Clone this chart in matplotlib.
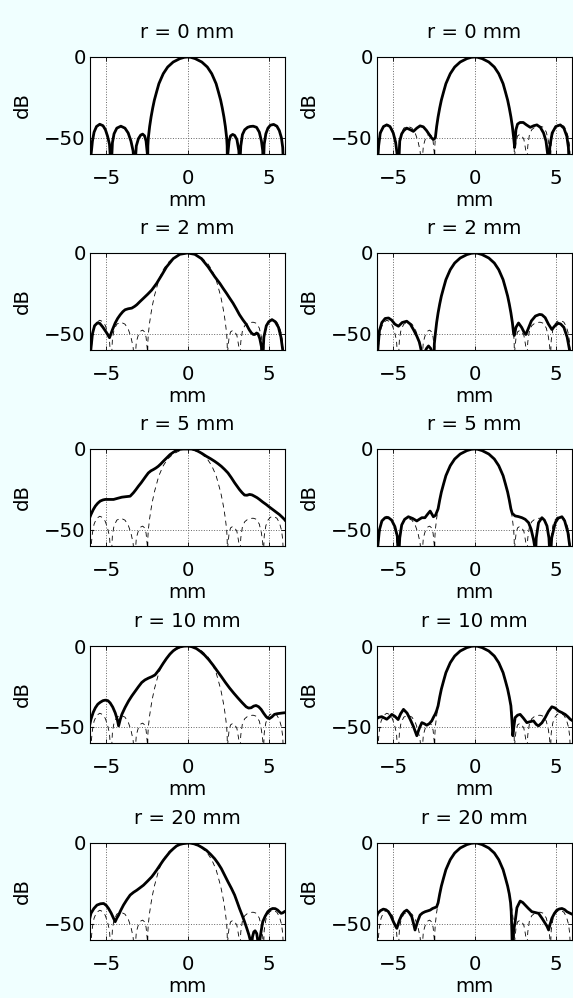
import matplotlib.pyplot as plt

plt.rcParams['font.family'] = 'DejaVu Sans'
plt.rcParams['font.size'] = 14.2

# radii shown in the panel titles
radii = [0, 2, 5, 10, 20]

# ideal profile (dashed in every panel, solid in the top-left one)
ref_x = [-6.0, -5.95, -5.85, -5.75, -5.6, -5.4, -5.2, -5.05, -4.92, -4.8, -4.7,
         -4.62, -4.52, -4.35, -4.1, -3.85, -3.65, -3.48, -3.35, -3.25,
         -3.15, -3.02, -2.88, -2.76, -2.64, -2.55, -2.47, -2.45,
         -2.44, -2.41, -2.33, -2.24, -2.14, -2.04, -1.9, -1.76, -1.6, -1.49, -1.22, -0.88, -0.47, -0.2, 0.0,
         0.2, 0.47, 0.88, 1.22, 1.49, 1.6, 1.76, 1.9, 2.04, 2.14, 2.24, 2.33, 2.41, 2.44,
         2.46, 2.48, 2.56, 2.65, 2.78, 2.9, 3.04, 3.16, 3.2,
         3.28, 3.38, 3.52, 3.7, 3.85, 4.04, 4.25, 4.42, 4.55, 4.63, 4.66,
         4.72, 4.82, 4.95, 5.1, 5.3, 5.5, 5.65, 5.78, 5.86, 5.92, 6.0]
ref_y = [-70, -62, -52, -46.5, -43, -41.6, -42.5, -45, -49, -54, -70,
         -53, -47.5, -44, -42.8, -44, -47, -52, -58, -70,
         -55, -50.5, -48.3, -47.7, -48.8, -52, -60, -70,
         -55, -50, -43, -37, -31.5, -26.7, -21.5, -16.5, -12.8, -10.3, -6.2, -3.1, -1.0, -0.2, 0.0,
         -0.2, -1.0, -3.1, -6.2, -10.3, -12.8, -16.5, -21.5, -26.7, -31.5, -37, -43, -50, -55,
         -70, -60, -52, -48.8, -47.9, -48.5, -51, -58, -70,
         -55, -48, -45, -43.5, -43, -42.8, -43.5, -46.5, -52, -58, -70,
         -54, -47.5, -44, -42.2, -41.7, -42.8, -45.5, -50, -56, -70, -70]

# left column, measured profiles
left_r2_x = [-6.0, -5.95, -5.85, -5.72, -5.55, -5.4, -5.2, -5.0, -4.8, -4.62, -4.45, -4.3, -4.14,
             -3.98, -3.84, -3.65, -3.43, -3.25, -3.12, -2.92, -2.71, -2.45, -2.2, -1.9, -1.59,
             -1.29, -0.88, -0.47, 0.0, 0.45, 0.86, 1.27, 1.68, 1.99, 2.2, 2.4, 2.6, 2.8, 3.0,
             3.2, 3.42, 3.63, 3.8, 3.93, 4.05, 4.14, 4.25, 4.34, 4.45, 4.55, 4.6, 4.7, 4.85,
             5.0, 5.2, 5.4, 5.6, 5.75, 5.86, 5.92, 6.0]
left_r2_y = [-70, -60, -50, -45, -43.3, -43.5, -46, -49, -52.4, -47.5, -43.3, -40.5, -38.2,
             -36.3, -35.1, -34.5, -34.1, -33, -32, -30, -28, -25.5, -22.9, -18.8, -13.7,
             -8.6, -3.5, -0.8, 0.0, -0.8, -3.5, -8.6, -14.7, -18.8, -22, -24.9, -28, -31, -34.5,
             -38.2, -41.5, -44.3, -47.5, -49.4, -50.4, -50.4, -49.5, -50, -53, -58, -70, -52, -45,
             -42.5, -41.2, -42.5, -46, -52, -60, -70, -70]

left_r5_x = [-6.0, -5.94, -5.8, -5.67, -5.52, -5.37, -5.2, -5.06, -4.8, -4.55, -4.3, -4.04, -3.8,
             -3.53, -3.33, -3.18, -3.02, -2.86, -2.71, -2.56, -2.41, -2.25, -2.1, -1.95, -1.8,
             -1.64, -1.49, -1.28, -1.08, -0.87, -0.67, -0.45, -0.27, 0.0, 0.24, 0.45, 0.65,
             0.9, 1.16, 1.42, 1.67, 1.88, 2.08, 2.28, 2.49, 2.7, 2.9, 3.05, 3.2, 3.36, 3.51,
             3.66, 3.82, 3.97, 4.12, 4.28, 4.43, 4.63, 4.84, 5.04, 5.24, 5.45, 5.65, 5.81, 5.96, 6.0]
left_r5_y = [-42, -40.5, -37.5, -35.3, -33.5, -32.2, -31.5, -31.2, -31.2, -31.2, -30.5, -29.8, -29.5,
             -29.2, -27.1, -25.2, -23, -21, -18.9, -16.8, -14.8, -13.5, -12.7, -11.8, -10.7,
             -9.2, -7.6, -5.5, -3.5, -2.0, -0.8, -0.2, 0.0, 0.0, 0.0, -0.5, -1.4,
             -2.8, -4.5, -6.0, -7.6, -9.1, -10.7, -12.6, -14.8, -17.8, -20.9, -23.0, -25.1, -27.0, -28.5,
             -28.6, -28.1, -28.4, -29.2, -30.1, -31.2, -32.8, -34.3, -35.9, -37.4, -39.0, -40.5, -42.0, -43.5, -44.0]

left_r10_x = [-6.0, -5.94, -5.8, -5.67, -5.52, -5.37, -5.2, -5.06, -4.9, -4.76, -4.6, -4.45, -4.32,
              -4.24, -4.14, -4.04, -3.84, -3.63, -3.42, -3.22, -3.02, -2.82, -2.62, -2.41, -2.2,
              -2.0, -1.85, -1.69, -1.5, -1.29, -1.08, -0.88, -0.67, -0.47, -0.22, 0.0, 0.25, 0.55,
              0.8, 1.06, 1.32, 1.57, 1.82, 2.08, 2.33, 2.59, 2.85, 3.1, 3.36, 3.61, 3.76, 3.92,
              4.07, 4.22, 4.38, 4.53, 4.68, 4.84, 4.94, 5.04, 5.2, 5.35, 5.5, 5.65, 5.8, 5.96, 6.0]
left_r10_y = [-48, -45.3, -41, -38.2, -36, -34.8, -33.8, -33.5, -33.8, -35.2, -37.8, -41.3, -45.5,
              -49.4, -45.5, -42.3, -38, -34.1, -30.8, -28, -25.2, -22.6, -21.0, -19.9, -19.0,
              -17.9, -16.0, -13.8, -10.8, -7.7, -5.0, -3.0, -1.5, -0.6, -0.1, 0.0, -0.4, -1.6,
              -3.4, -5.7, -8.6, -11.8, -15.3, -18.9, -22.5, -26.0, -29.2, -32.1, -35.0, -37.6, -38.4, -38.2,
              -37.2, -36.8, -37.6, -39.2, -41.5, -43.7, -44.6, -44.9, -43.8, -42.3, -41.9, -41.7, -41.5, -41.3, -41.3]

left_r20_x = [-6.0, -5.94, -5.76, -5.57, -5.36, -5.16, -5.0, -4.86, -4.7, -4.55, -4.45, -4.35, -4.24,
              -4.1, -3.94, -3.74, -3.53, -3.32, -3.12, -2.92, -2.71, -2.45, -2.2, -2.05, -1.9,
              -1.7, -1.49, -1.28, -1.08, -0.87, -0.67, -0.47, -0.27, 0.0, 0.14, 0.4, 0.65, 0.9,
              1.16, 1.42, 1.67, 1.88, 2.08, 2.28, 2.49, 2.7, 2.9, 3.05, 3.2, 3.36, 3.51, 3.65,
              3.78, 3.86, 3.92, 4.0, 4.08, 4.16, 4.26, 4.39, 4.45, 4.54, 4.63, 4.78, 4.94, 5.09,
              5.24, 5.4, 5.55, 5.66, 5.76, 5.86, 5.96, 6.0]
left_r20_y = [-46, -43.5, -40.5, -38.4, -37.6, -37.4, -38.6, -40.5, -43.3, -46.6, -48.7, -46.5, -44.6,
              -41.5, -38.4, -35.2, -32.2, -30.5, -29.2, -27.7, -26.1, -23.5, -20.9, -18.9, -16.8,
              -13.8, -10.7, -8.0, -5.5, -3.5, -1.8, -0.9, -0.4, -0.1, 0.0, -0.5, -1.4, -2.8,
              -4.5, -7.0, -9.7, -12.6, -15.8, -19.8, -24.0, -28.0, -32.2, -36.3, -40.5, -44.6, -48.7, -52.8,
              -56.9, -60, -65, -58, -55, -54.3, -56, -65, -60, -54, -48.7, -45.3, -42.5, -41.2,
              -40.5, -40.6, -41.5, -42.6, -43.5, -43.2, -42.5, -42.3]

# right column, measured profiles
right_r0_x = [-6.0, -5.9, -5.8, -5.6, -5.4, -5.2, -5.0, -4.85, -4.74, -4.68,
              -4.6, -4.48, -4.35, -4.17, -3.95, -3.76, -3.55, -3.35, -3.15, -2.95, -2.75, -2.63, -2.52,
              -2.41, -2.33, -2.24, -2.14, -2.04, -1.9, -1.76, -1.6, -1.49, -1.22, -0.88, -0.47, -0.2, 0.0,
              0.2, 0.47, 0.88, 1.22, 1.49, 1.6, 1.76, 1.9, 2.04, 2.14, 2.24, 2.33, 2.41, 2.44,
              2.47, 2.55, 2.65, 2.8, 3.0, 3.2, 3.43, 3.65, 3.84, 4.05, 4.25, 4.4, 4.5, 4.56,
              4.64, 4.78, 5.0, 5.28, 5.5, 5.68, 5.78, 5.84, 6.0]
right_r0_y = [-70, -55, -47, -43, -42, -43, -47, -53, -62, -70,
              -52, -47.5, -45.5, -44, -45, -46, -44, -42.6, -43.2, -45.5, -48.5, -50.2, -51,
              -50, -43, -37, -31.5, -26.7, -21.5, -16.5, -12.8, -10.3, -6.2, -3.1, -1.0, -0.2, 0.0,
              -0.2, -1.0, -3.1, -6.2, -10.3, -12.8, -16.5, -21.5, -26.7, -31.5, -37, -43, -50, -53,
              -56, -45, -41.5, -40.5, -40.5, -42, -43.5, -42.5, -42, -43.5, -47, -52, -60, -70,
              -55, -47, -43, -42, -44, -49, -56, -70, -70]

right_r2_x = [-6.0, -5.95, -5.85, -5.7, -5.5, -5.29, -5.1, -4.9, -4.68, -4.45, -4.17, -3.95, -3.75,
              -3.55, -3.4, -3.28, -3.2, -3.05, -2.95, -2.83, -2.7, -2.6, -2.52,
              -2.47, -2.41, -2.33, -2.24, -2.14, -2.04, -1.9, -1.76, -1.6, -1.49, -1.22, -0.88, -0.47, -0.2, 0.0,
              0.2, 0.47, 0.88, 1.22, 1.49, 1.6, 1.76, 1.9, 2.04, 2.14, 2.24, 2.33, 2.41,
              2.45, 2.55, 2.71, 2.9, 3.05, 3.16, 3.3, 3.5, 3.75, 4.0, 4.15, 4.35, 4.55, 4.76,
              4.95, 5.15, 5.3, 5.5, 5.7, 5.85, 5.95, 6.0]
right_r2_y = [-70, -60, -48, -43, -40.5, -40.2, -41.5, -44, -45.3, -43, -42.2, -44, -47.5,
              -51.4, -55, -60, -70, -61, -59, -57.5, -59, -62, -70,
              -56, -50, -43, -37, -31.5, -26.7, -21.5, -16.5, -12.8, -10.3, -6.2, -3.1, -1.0, -0.2, 0.0,
              -0.2, -1.0, -3.1, -6.2, -10.3, -12.8, -16.5, -21.5, -26.7, -31.5, -37, -43, -50,
              -51, -46, -43.3, -46, -49, -50.4, -47, -42, -39, -38, -38.2, -40, -44, -47.3,
              -45, -43.5, -43.9, -46, -52, -60, -70, -70]

right_r5_x = [-6.0, -5.95, -5.85, -5.7, -5.5, -5.29, -5.1, -4.9, -4.75, -4.68,
              -4.6, -4.48, -4.3, -4.07, -3.8, -3.55, -3.4, -3.24, -3.05, -2.9, -2.73, -2.53,
              -2.4, -2.3, -2.24, -2.14, -2.04, -1.9, -1.76, -1.6, -1.49, -1.22, -0.88, -0.47, -0.2, 0.0,
              0.2, 0.47, 0.88, 1.22, 1.49, 1.6, 1.76, 1.9, 2.04, 2.14, 2.24, 2.32, 2.5,
              2.7, 2.92, 3.12, 3.33, 3.48, 3.63, 3.7, 3.74, 3.8, 3.94, 4.15, 4.3, 4.46, 4.58, 4.66,
              4.75, 4.97, 5.15, 5.38, 5.55, 5.75, 5.86, 5.92, 6.0]
right_r5_y = [-70, -60, -50, -44.5, -42.5, -42.5, -44, -48, -54, -70,
              -55, -47, -43.5, -41.9, -43, -44.5, -43.5, -42.5, -42.5, -40.5, -38.4, -41.9,
              -41, -38.5, -37, -31.5, -26.7, -21.5, -16.5, -12.8, -10.3, -6.2, -3.1, -1.0, -0.2, 0.0,
              -0.2, -1.0, -3.1, -6.2, -10.3, -12.8, -16.5, -21.5, -26.7, -31.5, -37, -39.8, -41.4,
              -41.8, -42.5, -43.5, -45.6, -49.5, -55.9, -60, -70, -55, -45.6, -42.5, -44, -47.6, -55, -70,
              -55, -45.6, -42.8, -41.9, -44.5, -51.7, -60, -70, -70]

right_r10_x = [-6.0, -5.95, -5.71, -5.55, -5.4, -5.25, -5.09, -4.9, -4.7, -4.55, -4.37, -4.15, -3.96,
               -3.75, -3.55, -3.4, -3.24, -3.1, -2.94, -2.78, -2.63, -2.52, -2.41, -2.33, -2.24,
               -2.14, -2.04, -1.9, -1.76, -1.6, -1.49, -1.22, -0.88, -0.47, -0.2, 0.0,
               0.2, 0.47, 0.88, 1.22, 1.49, 1.6, 1.76, 1.9, 2.04, 2.14, 2.24, 2.3, 2.36, 2.42, 2.5, 2.65, 2.81,
               3.0, 3.22, 3.43, 3.63, 3.8, 3.94, 4.15, 4.35, 4.55, 4.76, 4.95, 5.17, 5.38, 5.58,
               5.75, 5.89, 6.0]
right_r10_y = [-45, -44.3, -43.7, -44.5, -45.3, -44, -42.3, -43.5, -45.5, -42, -39.2, -41.5, -45.3,
               -50, -55.5, -51, -47.4, -48, -49, -48, -46.3, -44, -42, -40, -37,
               -31.5, -26.7, -21.5, -16.5, -12.8, -10.3, -6.2, -3.1, -1.0, -0.2, 0.0,
               -0.2, -1.0, -3.1, -6.2, -10.3, -12.8, -16.5, -21.5, -26.7, -31.5, -37, -45.3, -55.5, -50, -44.3, -42.8, -42.3,
               -44.5, -47.4, -46.8, -46.3, -48.5, -49.4, -47.5, -44.3, -40.5, -37.6, -38.3, -40.2, -41.2, -42.3,
               -43.8, -45.3, -46]

right_r20_x = [-6.0, -5.95, -5.78, -5.61, -5.45, -5.3, -5.15, -4.99, -4.88, -4.78, -4.63, -4.48,
               -4.32, -4.17, -4.02, -3.86, -3.76, -3.66, -3.5, -3.35, -3.2, -3.04, -2.88, -2.73,
               -2.58, -2.45, -2.33, -2.24, -2.14, -2.04, -1.9, -1.76, -1.6, -1.49, -1.22, -0.88, -0.47, -0.2, 0.0,
               0.2, 0.47, 0.88, 1.22, 1.49, 1.6, 1.76, 1.9, 2.04, 2.14, 2.22, 2.26,
               2.3, 2.34, 2.4, 2.5, 2.61, 2.81, 2.97, 3.12, 3.32, 3.53, 3.74, 3.94, 4.15, 4.35,
               4.46, 4.56, 4.66, 4.76, 4.92, 5.07, 5.22, 5.38, 5.54, 5.69, 5.89, 6.0]
right_r20_y = [-45, -43.5, -41.8, -40.9, -41.3, -42.5, -45, -48.7, -51, -52.8, -48, -44.6,
               -42.5, -41.5, -43, -45.6, -49.5, -53.8, -48.5, -44.6, -43.3, -42.5, -42, -41.5,
               -40.5, -40, -39.5, -37, -31.5, -26.7, -21.5, -16.5, -12.8, -10.3, -6.2, -3.1, -1.0, -0.2, 0.0,
               -0.2, -1.0, -3.1, -6.2, -10.3, -12.8, -16.5, -21.5, -26.7, -31.5, -37, -42.5,
               -55, -70, -55, -48.7, -40, -35.9, -36.8, -38.4, -40.5, -42.5, -43, -43.5, -46.5, -49.7,
               -51.5, -53.8, -50, -46.6, -43.5, -41.5, -40.8, -40.5, -41.2, -42.5, -43.5, -44]

left_x = [ref_x, left_r2_x, left_r5_x, left_r10_x, left_r20_x]
left_y = [ref_y, left_r2_y, left_r5_y, left_r10_y, left_r20_y]
right_x = [right_r0_x, right_r2_x, right_r5_x, right_r10_x, right_r20_x]
right_y = [right_r0_y, right_r2_y, right_r5_y, right_r10_y, right_r20_y]

W, H = 573, 998
fig = plt.figure(figsize=(W / 100, H / 100), dpi=100, facecolor='#f0ffff')

row_tops = [57, 253, 449, 646, 843]
col_lefts = [90, 377]
ax_w, ax_h = 195, 97

for col, (xs, ys) in enumerate([(left_x, left_y), (right_x, right_y)]):
    for row in range(5):
        top = row_tops[row]
        ax = fig.add_axes([col_lefts[col] / W, 1 - (top + ax_h) / H, ax_w / W, ax_h / H])
        ax.set_facecolor('white')
        ax.plot(ref_x, ref_y, color='k', lw=0.6, dashes=(6, 5))
        ax.plot(xs[row], ys[row], color='k', lw=2.0, solid_joinstyle='round')
        ax.set_xlim(-6, 6)
        ax.set_ylim(-60, 0)
        ax.set_xticks([-5, 0, 5])
        ax.set_yticks([-50, 0])
        ax.grid(True, color='0.4', linestyle=':', linewidth=0.7)
        ax.tick_params(direction='in', length=3, width=0.6, top=True, right=True)
        ax.tick_params(axis='x', pad=10.5)
        ax.tick_params(axis='y', pad=3)
        for s in ax.spines.values():
            s.set_linewidth(0.8)
        ax.set_title(f'r = {radii[row]} mm', pad=14, fontsize='medium')
        ax.set_xlabel('mm', labelpad=2.5)
        ax.set_ylabel('dB', labelpad=9)

fig.savefig('out.png', dpi=100, facecolor=fig.get_facecolor())
